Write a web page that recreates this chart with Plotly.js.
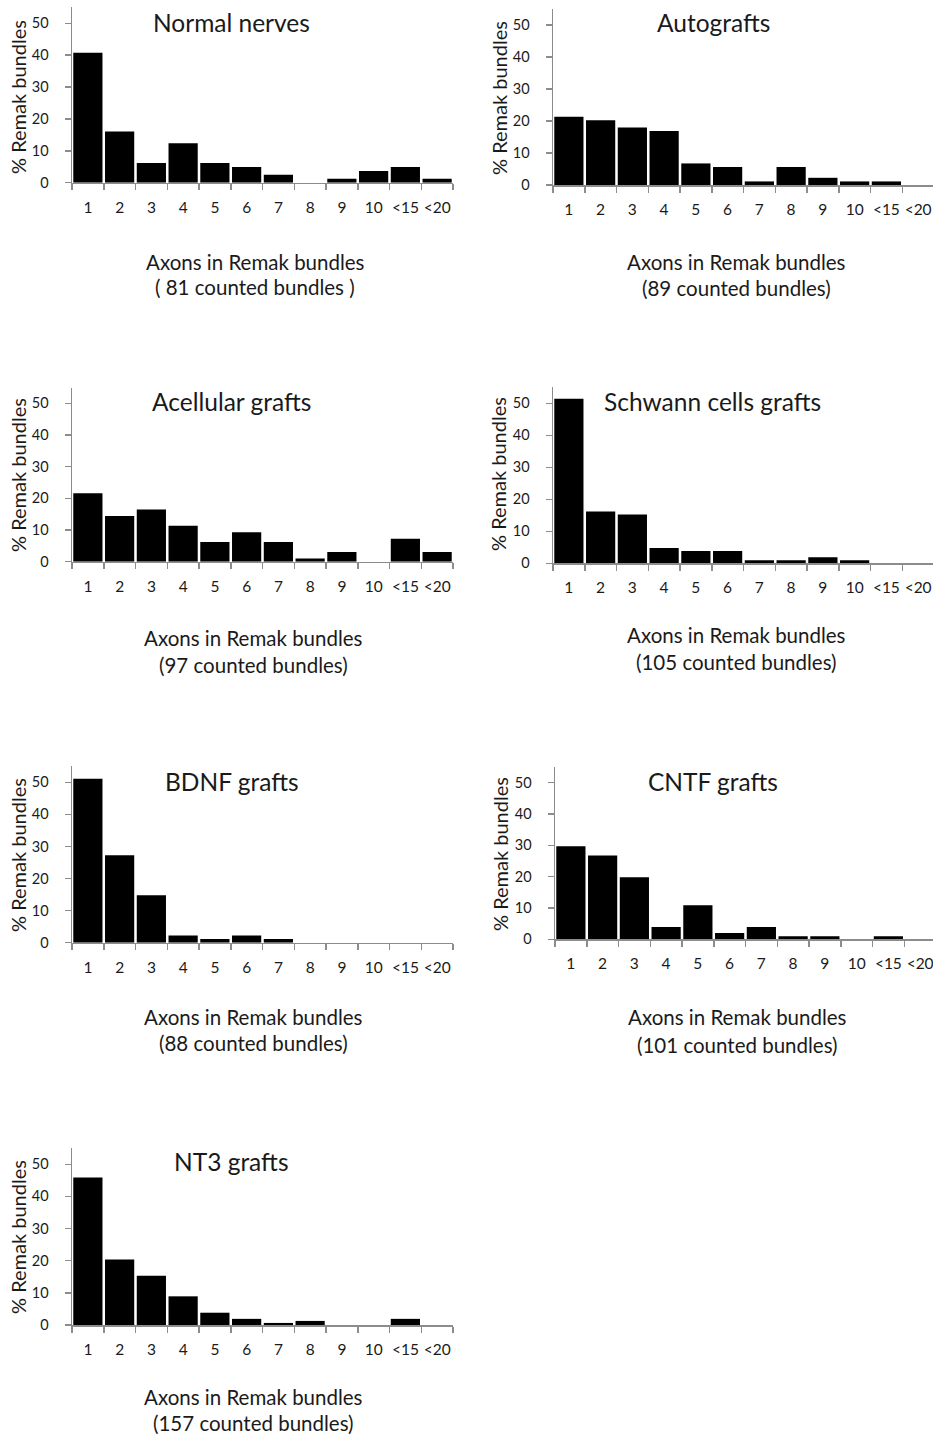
<!DOCTYPE html>
<html><head><meta charset="utf-8">
<script src="https://cdn.plot.ly/plotly-3.0.1.min.js"></script>
<style>html,body{margin:0;padding:0;background:#fff}</style>
</head><body><div id="chart" style="width:933px;height:1435px"></div>
<script>
// ---- data ----
const categories = ["1","2","3","4","5","6","7","8","9","10","<15","<20"];
const normalNerves       = [40.74,16.05,6.17,12.35,6.17,4.94,2.47,0,1.23,3.70,4.94,1.23];
const autografts         = [21.35,20.22,17.98,16.85,6.74,5.62,1.12,5.62,2.25,1.12,1.12,0];
const acellularGrafts    = [21.65,14.43,16.49,11.34,6.19,9.28,6.19,1.03,3.09,0,7.22,3.09];
const schwannCellsGrafts = [51.43,16.19,15.24,4.76,3.81,3.81,0.95,0.95,1.90,0.95,0,0];
const bdnfGrafts         = [51.14,27.27,14.77,2.27,1.14,2.27,1.14,0,0,0,0,0];
const cntfGrafts         = [29.70,26.73,19.80,3.96,10.89,1.98,3.96,0.99,0.99,0,0.99,0];
const nt3Grafts          = [45.86,20.38,15.29,8.92,3.82,1.91,0.64,1.27,0,0,1.91,0];
const panelTitles = ["Normal nerves","Autografts","Acellular grafts","Schwann cells grafts","BDNF grafts","CNTF grafts","NT3 grafts"];
const countedLabels = ["( 81 counted bundles )","(89 counted bundles)","(97 counted bundles)","(105 counted bundles)","(88 counted bundles)","(101 counted bundles)","(157 counted bundles)"];
const xTitleText = "Axons in Remak bundles";
const yTitleText = "% Remak bundles";
const yTickVals = [0,10,20,30,40,50];

const series = [normalNerves, autografts, acellularGrafts, schwannCellsGrafts, bdnfGrafts, cntfGrafts, nt3Grafts];

// ---- layout geometry (pixels) ----
const W = 933, H = 1435;
const geo = [
  {l:72,  r:453, y0:182.7, yt:7.4,   tx:231, ty:22,    xl:255, x1:262,   x2:287,    yx:18,  yy:97},
  {l:553, r:933, y0:185,   yt:9,     tx:713, ty:22.7,  xl:736, x1:262.3, x2:288.3,  yx:499, yy:98},
  {l:72,  r:453, y0:561.7, yt:387.5, tx:231, ty:401.7, xl:254, x1:638.3, x2:665,    yx:18,  yy:475},
  {l:553, r:933, y0:563.3, yt:387.3, tx:712, ty:401.7, xl:736, x1:635,   x2:661.7,  yx:498, yy:474},
  {l:72,  r:453, y0:942.7, yt:766.3, tx:232, ty:781.7, xl:254, x1:1016.7,x2:1043.3, yx:18,  yy:855},
  {l:555, r:933, y0:939.3, yt:767,   tx:713, ty:781.7, xl:737, x1:1016.7,x2:1045,   yx:500, yy:854},
  {l:72,  r:453, y0:1325,  yt:1148.2,tx:231, ty:1161.7,xl:254, x1:1396.7,x2:1423.3, yx:18,  yy:1237}
];
const FONT = "Lato, 'Open Sans', sans-serif";
const TXT = "#1a1a1a";
const AX = "#8c8c8c";

const px = v => v / W;
const py = v => 1 - v / H;

const data = [];
const layout = {
  width: W, height: H,
  margin: {l:0, r:0, t:0, b:0},
  paper_bgcolor: "#fff", plot_bgcolor: "rgba(0,0,0,0)",
  showlegend: false,
  bargap: 0.08,
  font: {family: FONT, color: TXT},
  annotations: []
};

series.forEach((vals, i) => {
  const g = geo[i];
  const n = i + 1;
  const xa = n === 1 ? "x" : "x" + n;
  const ya = n === 1 ? "y" : "y" + n;
  data.push({
    type: "bar", x: categories, y: vals,
    xaxis: xa, yaxis: ya,
    marker: {color: "#000", line: {width: 0}},
    hoverinfo: "x+y"
  });
  const catW = (453 - 72) / 12;
  const rightEdge = -0.5 + (g.r - g.l) / catW;
  layout[n === 1 ? "xaxis" : "xaxis" + n] = {
    domain: [px(g.l), px(g.r)],
    anchor: ya,
    type: "category",
    range: [-0.5, rightEdge],
    showline: true, linecolor: AX, linewidth: 1.5,
    ticks: "outside", tickson: "boundaries", ticklen: 6, tickcolor: AX, tickwidth: 1.5,
    tickangle: 0,
    showgrid: false, zeroline: false,
    tickfont: {family: FONT, size: 15.5, color: TXT},
    ticklabelstandoff: 10,
    fixedrange: true
  };
  layout[n === 1 ? "yaxis" : "yaxis" + n] = {
    domain: [py(g.y0), py(g.yt)],
    anchor: xa,
    range: [0, 55],
    tickvals: yTickVals,
    showline: true, linecolor: AX, linewidth: 1.5,
    ticks: "outside", ticklen: 6, tickcolor: AX, tickwidth: 1.5,
    showgrid: false, zeroline: false,
    tickfont: {family: FONT, size: 14.5, color: TXT},
    ticklabelstandoff: 13,
    fixedrange: true
  };
  layout.annotations.push(
    {text: panelTitles[i], xref:"paper", yref:"paper", x: px(g.tx), y: py(g.ty), xanchor:"center", yanchor:"middle", showarrow:false, font:{family:FONT, size:24.5, color:TXT}},
    {text: xTitleText, xref:"paper", yref:"paper", x: px(g.xl), y: py(g.x1), xanchor:"center", yanchor:"middle", showarrow:false, font:{family:FONT, size:20.5, color:TXT}},
    {text: countedLabels[i], xref:"paper", yref:"paper", x: px(g.xl), y: py(g.x2), xanchor:"center", yanchor:"middle", showarrow:false, font:{family:FONT, size:20.5, color:TXT}},
    {text: yTitleText, xref:"paper", yref:"paper", x: px(g.yx), y: py(g.yy), xanchor:"center", yanchor:"middle", textangle:-90, showarrow:false, font:{family:FONT, size:20, color:TXT}}
  );
});

Plotly.newPlot("chart", data, layout, {displayModeBar:false, staticPlot:true});
</script>
</body></html>
